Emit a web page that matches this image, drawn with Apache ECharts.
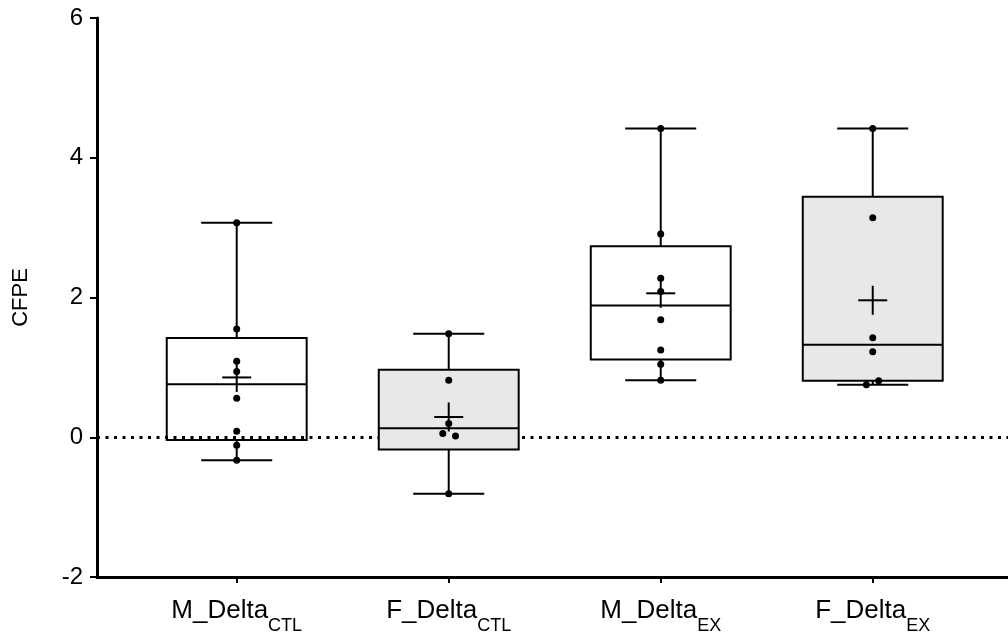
<!DOCTYPE html>
<html>
<head>
<meta charset="utf-8">
<script src="https://cdn.jsdelivr.net/npm/echarts@6/dist/echarts.min.js"></script>
<style>
html, body { margin: 0; padding: 0; background: #fff; }
#chart { width: 1008px; height: 637px; }
</style>
</head>
<body>
<div id="chart"></div>
<script>
// groups on the x axis (main name + subscript)
var labelMain = ['M_Delta', 'F_Delta', 'M_Delta', 'F_Delta'];
var labelSub = ['CTL', 'CTL', 'EX', 'EX'];

// box statistics
var whiskerLow  = [-0.33, -0.81, 0.814, 0.752];
var q1          = [-0.04, -0.176, 1.114, 0.81];
var median      = [0.757, 0.129, 1.886, 1.324];
var q3          = [1.42, 0.967, 2.733, 3.443];
var whiskerHigh = [3.07, 1.48, 4.42, 4.42];
var mean        = [0.856, 0.29, 2.06, 1.96];

// individual points per group
var pts_M_CTL = [3.07, 1.55, 1.086, 0.94, 0.557, 0.086, -0.114, -0.33];
var pts_F_CTL = [1.48, 0.814, 0.195, 0.052, 0.019, -0.81];
var pts_M_EX  = [4.42, 2.91, 2.276, 2.086, 1.68, 1.248, 1.043, 0.814];
var pts_F_EX  = [4.42, 3.14, 1.424, 1.224, 0.81, 0.752];
var points = [pts_M_CTL, pts_F_CTL, pts_M_EX, pts_F_EX];

// small sideways spread of overlapping dots
var jitter = [
    [0, 0, 0, 0, 0, 0, 0, 0],
    [0, 0, 0, -0.028, 0.032, 0],
    [0, 0, 0, 0, 0, 0, 0, 0],
    [0, 0, 0, 0, 0.028, -0.03]
];

var boxFill = ['none', '#e8e8e8', 'none', '#e8e8e8'];
var boxWidth = 0.66;   // in x-axis units
var capWidth = 0.335;
var crossHalf = 14.5;  // px

var boxData = [];
for (var i = 0; i < labelMain.length; i++) {
    boxData.push([i + 1, whiskerLow[i], q1[i], median[i], q3[i], whiskerHigh[i], mean[i]]);
}
var dotData = [];
points.forEach(function (arr, g) {
    arr.forEach(function (v, k) {
        dotData.push([g + 1 + jitter[g][k], v]);
    });
});

var myChart = echarts.init(document.getElementById('chart'));
var lineStyle = { stroke: '#000', lineWidth: 2 };

var option = {
    backgroundColor: '#fff',
    animation: false,
    textStyle: { fontFamily: 'Liberation Sans, Arial, sans-serif' },
    grid: { left: 97, right: 0, top: 18, bottom: 60, outerBoundsMode: 'none' },
    xAxis: {
        type: 'value',
        min: 0.341,
        max: 4.638,
        splitLine: { show: false },
        axisLine: { onZero: false, lineStyle: { color: '#000', width: 3 } },
        axisTick: { customValues: [1, 2, 3, 4], length: 6, lineStyle: { color: '#000', width: 2 } },
        axisLabel: {
            customValues: [1, 2, 3, 4],
            margin: 21,
            formatter: function (v) {
                var idx = Math.round(v) - 1;
                return '{a|' + labelMain[idx] + '}{s|' + labelSub[idx] + '}';
            },
            rich: {
                a: { fontSize: 26, color: '#000', lineHeight: 30, verticalAlign: 'top' },
                s: { fontSize: 18, color: '#000', lineHeight: 18, verticalAlign: 'top', padding: [19, 0, 0, 0] }
            }
        }
    },
    yAxis: {
        type: 'value',
        min: -2,
        max: 6,
        interval: 2,
        name: 'CFPE',
        nameLocation: 'middle',
        nameGap: 65,
        nameTextStyle: { color: '#000', fontSize: 22 },
        splitLine: { show: false },
        axisLine: { show: true, onZero: false, lineStyle: { color: '#000', width: 3 } },
        axisTick: { show: true, length: 7, lineStyle: { color: '#000', width: 2 } },
        axisLabel: { color: '#000', fontSize: 24, margin: 14 }
    },
    series: [
        {
            // dotted reference line at zero
            type: 'line',
            data: [],
            z: 1,
            markLine: {
                silent: true,
                z: 1,
                symbol: 'none',
                label: { show: false },
                lineStyle: { color: '#000', width: 3, type: [3, 5.5] },
                data: [{ yAxis: 0 }]
            }
        },
        {
            type: 'custom',
            z: 2,
            data: boxData,
            renderItem: function (params, api) {
                var x = api.value(0);
                var hw = api.size([boxWidth, 0])[0] / 2;
                var cw = api.size([capWidth, 0])[0] / 2;
                var pLow = api.coord([x, api.value(1)]);
                var pQ1 = api.coord([x, api.value(2)]);
                var pMed = api.coord([x, api.value(3)]);
                var pQ3 = api.coord([x, api.value(4)]);
                var pHigh = api.coord([x, api.value(5)]);
                var pMean = api.coord([x, api.value(6)]);
                var cx = pMed[0];
                return {
                    type: 'group',
                    children: [
                        { type: 'line', shape: { x1: cx, y1: pHigh[1], x2: cx, y2: pQ3[1] }, style: lineStyle },
                        { type: 'line', shape: { x1: cx, y1: pQ1[1], x2: cx, y2: pLow[1] }, style: lineStyle },
                        { type: 'line', shape: { x1: cx - cw, y1: pHigh[1], x2: cx + cw, y2: pHigh[1] }, style: lineStyle },
                        { type: 'line', shape: { x1: cx - cw, y1: pLow[1], x2: cx + cw, y2: pLow[1] }, style: lineStyle },
                        {
                            type: 'rect',
                            shape: { x: cx - hw, y: pQ3[1], width: hw * 2, height: pQ1[1] - pQ3[1] },
                            style: { fill: boxFill[params.dataIndex], stroke: '#000', lineWidth: 2 }
                        },
                        { type: 'line', shape: { x1: cx - hw, y1: pMed[1], x2: cx + hw, y2: pMed[1] }, style: lineStyle },
                        { type: 'line', shape: { x1: cx - crossHalf, y1: pMean[1], x2: cx + crossHalf, y2: pMean[1] }, style: lineStyle },
                        { type: 'line', shape: { x1: cx, y1: pMean[1] - crossHalf, x2: cx, y2: pMean[1] + crossHalf }, style: lineStyle }
                    ]
                };
            }
        },
        {
            type: 'scatter',
            z: 3,
            symbolSize: 7,
            itemStyle: { color: '#000', opacity: 1 },
            data: dotData
        }
    ]
};
myChart.setOption(option);
</script>
</body>
</html>
